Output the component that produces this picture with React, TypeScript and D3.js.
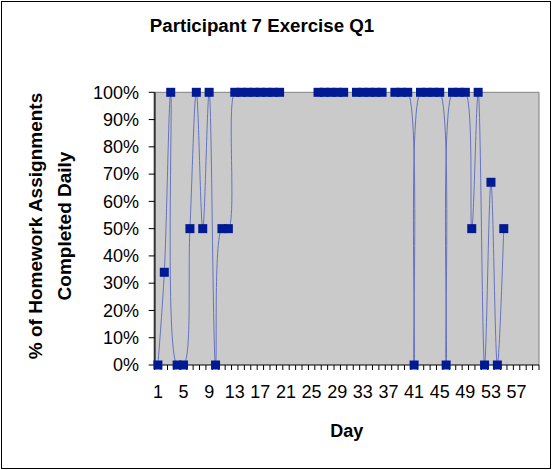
import React from "react";
import * as d3 from "d3";

// Day numbers on the category axis
const days: number[] = [
  1, 2, 3, 4, 5, 6, 7, 8, 9, 10, 11, 12, 13, 14, 15, 16, 17, 18, 19, 20,
  21, 22, 23, 24, 25, 26, 27, 28, 29, 30, 31, 32, 33, 34, 35, 36, 37, 38, 39, 40,
  41, 42, 43, 44, 45, 46, 47, 48, 49, 50, 51, 52, 53, 54, 55, 56, 57, 58, 59, 60,
];

// Share of homework assignments completed each day (null = no entry)
const completed: (number | null)[] = [
  0, 0.34, 1, 0, 0, 0.5, 1, 0.5, 1, 0,
  0.5, 0.5, 1, 1, 1, 1, 1, 1, 1, 1,
  null, null, null, null, null, 1, 1, 1, 1, 1,
  null, 1, 1, 1, 1, 1, null, 1, 1, 1,
  0, 1, 1, 1, 1, 0, 1, 1, 1, 0.5,
  1, 0, 0.67, 0, 0.5, null, null, null, null, null,
];

const yTicks: number[] = [0, 0.1, 0.2, 0.3, 0.4, 0.5, 0.6, 0.7, 0.8, 0.9, 1];
const xTickLabels: number[] = [1, 5, 9, 13, 17, 21, 25, 29, 33, 37, 41, 45, 49, 53, 57];

const title = "Participant 7 Exercise Q1";
const yTitle = ["% of Homework Assignments", "Completed Daily"];
const xTitle = "Day";

const W = 554;
const H = 470;
const left = 154.7;
const right = 539;
const top = 92.3;
const bottom = 365;
const font = "'Liberation Sans', Arial, Helvetica, sans-serif";
const navy = "#001a94";

export default function App() {
  const x = d3
    .scaleBand<number>()
    .domain(days)
    .range([left, right])
    .padding(0);
  const y = d3.scaleLinear().domain([0, 1]).range([bottom, top]);
  const bw = x.bandwidth();
  const cx = (d: number) => (x(d) as number) + bw / 2;

  const points = days.map((d, i) => ({ day: d, v: completed[i] }));

  const line = d3
    .line<{ day: number; v: number | null }>()
    .defined((p) => p.v != null)
    .x((p) => cx(p.day))
    .y((p) => y(p.v as number))
    .curve(d3.curveCatmullRom.alpha(0.5));

  const boundaries = d3.range(days.length + 1).map((i) => left + i * bw);
  const ms = 9;

  return (
    <svg
      width={W}
      height={H}
      style={{ position: "absolute", left: 0, top: 0, background: "#fff" }}
      fontFamily={font}
    >
      <rect x={1.5} y={1.5} width={549} height={467} fill="#fff" stroke="#000" strokeWidth={1} />

      <text x={262} y={32} textAnchor="middle" fontSize={18.7} fontWeight="bold" fill="#000">
        {title}
      </text>

      {/* plot area */}
      <rect x={left} y={top} width={right - left} height={bottom - top} fill="#cacaca" />
      <line x1={left} x2={right} y1={top} y2={top} stroke="#808080" strokeWidth={1} />
      <line x1={right} x2={right} y1={top} y2={bottom} stroke="#808080" strokeWidth={1} />

      {/* value axis */}
      <line x1={left} x2={left} y1={top} y2={bottom} stroke="#333" strokeWidth={2} />
      {yTicks.map((t) => (
        <g key={"y" + t}>
          <line x1={left - 6} x2={left} y1={y(t)} y2={y(t)} stroke="#000" strokeWidth={1} />
          <text x={139} y={y(t) + 6.3} textAnchor="end" fontSize={18} fill="#000">
            {d3.format(".0%")(t)}
          </text>
        </g>
      ))}

      {/* category axis */}
      <line x1={left} x2={right} y1={bottom} y2={bottom} stroke="#000" strokeWidth={1} />
      {boundaries.map((bx, i) => (
        <line key={"xt" + i} x1={bx} x2={bx} y1={bottom} y2={bottom + 5} stroke="#000" strokeWidth={1} />
      ))}
      {xTickLabels.map((d) => (
        <text key={"xl" + d} x={cx(d)} y={398} textAnchor="middle" fontSize={18} fill="#000">
          {d}
        </text>
      ))}

      {/* series */}
      <path d={line(points) || ""} fill="none" stroke="#5a69bd" strokeWidth={0.9} />
      {points
        .filter((p) => p.v != null)
        .map((p) => (
          <rect
            key={"m" + p.day}
            x={cx(p.day) - ms / 2}
            y={y(p.v as number) - ms / 2}
            width={ms}
            height={ms}
            fill={navy}
          />
        ))}

      {/* axis titles */}
      {yTitle.map((t, i) => (
        <text
          key={"yt" + i}
          transform={`translate(${42 + i * 28.5},226) rotate(-90)`}
          textAnchor="middle"
          fontSize={19}
          fontWeight="bold"
          fill="#000"
        >
          {t}
        </text>
      ))}
      <text x={(left + right) / 2} y={437} textAnchor="middle" fontSize={18} fontWeight="bold" fill="#000">
        {xTitle}
      </text>
    </svg>
  );
}
